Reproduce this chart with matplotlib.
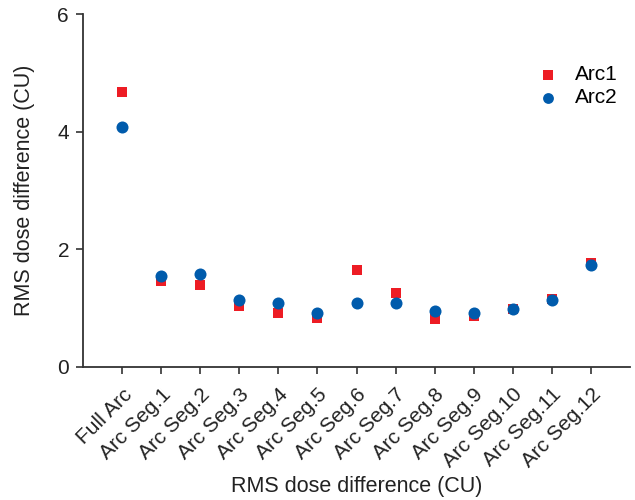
import matplotlib.pyplot as plt
import numpy as np

plt.rcParams['font.family'] = ['Liberation Sans', 'DejaVu Sans']

labels = ["Full Arc"] + ["Arc Seg.%d" % i for i in range(1, 13)]
arc1 = [4.68, 1.46, 1.40, 1.03, 0.91, 0.84, 1.65, 1.25, 0.82, 0.87, 0.98, 1.15, 1.76]
arc2 = [4.08, 1.54, 1.58, 1.14, 1.08, 0.92, 1.09, 1.09, 0.95, 0.91, 0.99, 1.14, 1.73]

fig = plt.figure(figsize=(6.35, 5), dpi=100)
ax = fig.add_axes([83 / 635, 1 - 367 / 500, 547 / 635, 353 / 500])

x = np.arange(len(labels))
ax.scatter(x, arc1, marker="s", s=55, color="#ED1C24", label="Arc1", zorder=2, linewidths=0)
ax.scatter(x, arc2, marker="o", s=75, color="#005BAC", label="Arc2", zorder=3, linewidths=0)

ax.set_xlim(-1, 13)
ax.set_ylim(0, 6)
ax.set_yticks([0, 2, 4, 6])
ax.set_xticks(x)
ax.set_xticklabels(labels, rotation=45, ha="right", rotation_mode="anchor", fontsize=15)
ax.tick_params(axis="both", direction="out", length=5, width=1.2, color="#333333",
               labelsize=15, labelcolor="#222222")
ax.tick_params(axis="x", pad=8)
ax.tick_params(axis="y", pad=5)

for side in ["top", "right"]:
    ax.spines[side].set_visible(False)
for side in ["left", "bottom"]:
    ax.spines[side].set_linewidth(1.3)
    ax.spines[side].set_color("#333333")

ax.set_xlabel("RMS dose difference (CU)", fontsize=15.5, color="#222222")
ax.set_ylabel("RMS dose difference (CU)", fontsize=15.5, color="#222222")
ax.yaxis.set_label_coords(-0.088, 0.5)
ax.xaxis.set_label_coords(0.5, -0.31)

ax.legend(loc="upper right", bbox_to_anchor=(1.012, 0.908), frameon=False, fontsize=15,
          handletextpad=0.3, labelspacing=0.2, markerscale=0.9)

fig.savefig("out.png", dpi=100)
